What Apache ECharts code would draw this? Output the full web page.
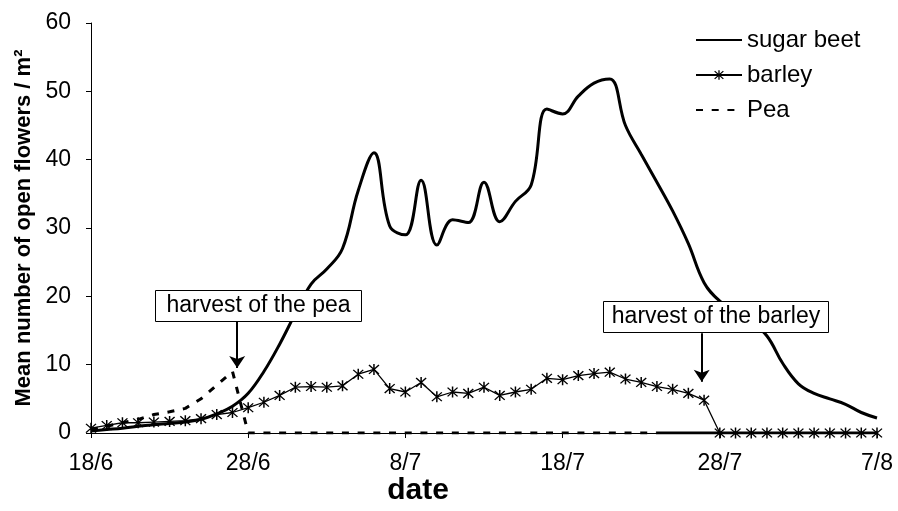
<!DOCTYPE html>
<html>
<head>
<meta charset="utf-8">
<script src="https://cdn.jsdelivr.net/npm/echarts@6/dist/echarts.min.js"></script>
<style>
  html, body { margin: 0; padding: 0; background: #fff; }
  #chart { width: 898px; height: 511px; }
</style>
</head>
<body>
<div id="chart"></div>
<script>
// x = days since 18/6, one value per day
const dateLabels = ['18/6', '28/6', '8/7', '18/7', '28/7', '7/8'];

const sugarBeet = [0.3, 0.5, 0.7, 1.0, 1.2, 1.4, 1.6, 2.0, 2.8, 3.9,
  5.8, 9.0, 13.0, 17.5, 21.8, 24.0, 27.0, 35.5, 41.0, 30.3,
  29.0, 37.0, 27.5, 31.2, 30.8, 36.7, 30.9, 33.9, 36.3, 47.4,
  46.7, 49.3, 51.2, 51.8, 45.0, 40.8, 36.7, 32.5, 27.7, 22.0,
  19.3, 17.8, 16.2, 14.2, 10.2, 7.2, 5.8, 5.0, 4.2, 3.0,
  2.2];

const barley = [0.7, 1.1, 1.5, 1.5, 1.6, 1.7, 1.8, 2.1, 2.7, 3.0,
  3.7, 4.5, 5.5, 6.7, 6.8, 6.7, 6.9, 8.6, 9.3, 6.5,
  6.0, 7.4, 5.3, 6.0, 5.8, 6.7, 5.5, 6.0, 6.4, 8.0,
  7.8, 8.4, 8.7, 8.9, 7.9, 7.4, 6.8, 6.4, 5.8, 4.8,
  0, 0, 0, 0, 0, 0, 0, 0, 0, 0,
  0];

// pea: dashed part from 18/6, then a solid stretch at zero at the end
const pea = [0.5, 1.0, 1.5, 2.0, 2.7, 3.1, 3.6, 5.0, 7.0, 9.0,
  0, 0, 0, 0, 0, 0, 0, 0, 0, 0,
  0, 0, 0, 0, 0, 0, 0, 0, 0, 0,
  0, 0, 0, 0, 0, 0, 0];
const peaTailStart = 36;
const peaTail = [0, 0, 0, 0, 0, 0, 0, 0, 0, 0, 0, 0, 0, 0, 0];

// harvest arrows: [day, from value, to value]
const peaHarvest = [9.3, 16.3, 9.5];
const barleyHarvest = [38.85, 14.6, 7.5];

const toPairs = (arr, start = 0) => arr.map((v, i) => [start + i, v]);

const FONT = 'Arial, "Liberation Sans", sans-serif';
const star = 'path://M-0.6,-5 L0.6,-5 L0.6,5 L-0.6,5 Z M-4.4,-3.6 L-3.6,-4.4 L4.4,3.6 L3.6,4.4 Z M3.6,-4.4 L4.4,-3.6 L-3.6,4.4 L-4.4,3.6 Z';

const arrowLine = h => ({
  silent: true,
  symbol: ['none', 'arrow'],
  symbolSize: 12,
  label: { show: false },
  lineStyle: { color: '#000', width: 2, type: 'solid' },
  itemStyle: { color: '#000' },
  data: [[{ coord: [h[0], h[1]] }, { coord: [h[0], h[2]] }]]
});

const chart = echarts.init(document.getElementById('chart'), null, { renderer: 'canvas' });
chart.setOption({
  animation: false,
  backgroundColor: '#fff',
  grid: { left: 91, right: 21, top: 23, bottom: 78, containLabel: false },
  legend: {
    data: [
      { name: 'sugar beet', itemStyle: { opacity: 0 } },
      { name: 'barley' },
      { name: 'Pea', itemStyle: { opacity: 0 } }
    ],
    orient: 'vertical',
    left: 695, top: 28, padding: 0,
    itemWidth: 46, itemHeight: 12, itemGap: 11,
    textStyle: { color: '#000', fontSize: 24, fontFamily: FONT },
    selectedMode: false
  },
  xAxis: {
    type: 'value', min: 0, max: 50, interval: 10,
    axisLine: { lineStyle: { color: '#000', width: 1 } },
    axisTick: { show: true, length: 5, lineStyle: { color: '#000' } },
    splitLine: { show: false },
    axisLabel: {
      color: '#000', fontSize: 23, fontFamily: FONT, margin: 19,
      formatter: v => dateLabels[v / 10]
    }
  },
  yAxis: {
    type: 'value', min: 0, max: 60, interval: 10,
    name: 'Mean number of open flowers / m²',
    nameLocation: 'middle', nameRotate: 90, nameGap: 56,
    nameTextStyle: { color: '#000', fontSize: 22, fontWeight: 'bold', fontFamily: FONT },
    axisLine: { show: true, lineStyle: { color: '#000', width: 1 } },
    axisTick: { show: true, length: 5, lineStyle: { color: '#000' } },
    splitLine: { show: false },
    axisLabel: { color: '#000', fontSize: 23, fontFamily: FONT, margin: 20 }
  },
  series: [
    {
      name: 'Pea', type: 'line', data: toPairs(pea), z: 2,
      symbol: 'none',
      lineStyle: { color: '#000', width: 3, type: [7, 8.7] },
      itemStyle: { color: '#000' },
      markLine: arrowLine(peaHarvest)
    },
    {
      name: 'pea end', type: 'line', data: toPairs(peaTail, peaTailStart), z: 2,
      symbol: 'none',
      lineStyle: { color: '#000', width: 3 }
    },
    {
      name: 'barley', type: 'line', data: toPairs(barley), z: 3,
      symbol: star, symbolSize: 11, showSymbol: true,
      lineStyle: { color: '#000', width: 1.3 },
      itemStyle: { color: '#000' },
      markLine: arrowLine(barleyHarvest)
    },
    {
      name: 'sugar beet', type: 'line', data: toPairs(sugarBeet), z: 4,
      symbol: 'none', smooth: 0.4,
      lineStyle: { color: '#000', width: 3 },
      itemStyle: { color: '#000' }
    }
  ],
  graphic: [
    { type: 'rect', z: 10, shape: { x: 155.5, y: 290.5, width: 206, height: 31 },
      style: { fill: '#fff', stroke: '#000', lineWidth: 1 } },
    { type: 'text', z: 11, x: 258.5, y: 306,
      style: { text: 'harvest of the pea', font: '23px ' + FONT, fill: '#000', align: 'center', verticalAlign: 'middle' } },
    { type: 'rect', z: 10, shape: { x: 603.5, y: 301.5, width: 225, height: 31 },
      style: { fill: '#fff', stroke: '#000', lineWidth: 1 } },
    { type: 'text', z: 11, x: 716, y: 317,
      style: { text: 'harvest of the barley', font: '23px ' + FONT, fill: '#000', align: 'center', verticalAlign: 'middle' } },
    { type: 'text', z: 11, x: 418, y: 491,
      style: { text: 'date', font: 'bold 30px ' + FONT, fill: '#000', align: 'center', verticalAlign: 'middle' } }
  ]
});
</script>
</body>
</html>
